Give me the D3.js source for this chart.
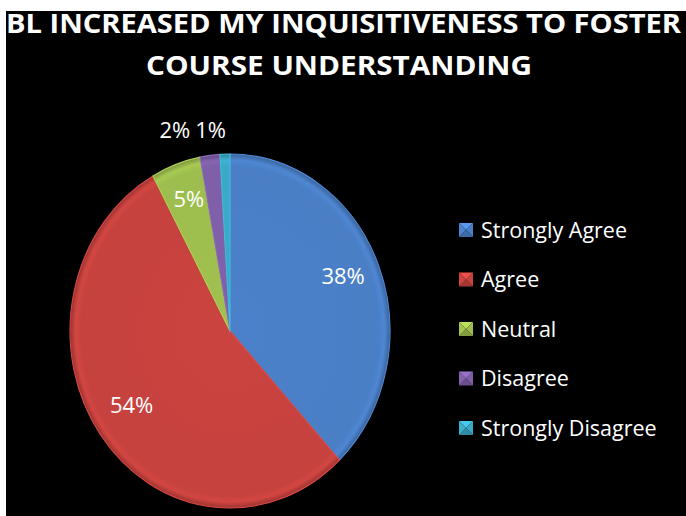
<!DOCTYPE html>
<html><head><meta charset="utf-8">
<script src="https://cdn.jsdelivr.net/npm/d3@7"></script>
<style>html,body{margin:0;padding:0;background:#fff;}svg{display:block;}</style>
</head><body>
<script>
const categories = ["Strongly Agree","Agree","Neutral","Disagree","Strongly Disagree"];
const values = [38,54,5,2,1];
const labels = ["38%","54%","5%","2%","1%"];
const colors = ["#4a7fc6","#c6423e","#9dbd4e","#7f5fa8","#3aa9c6"];
const titleLines = ["BL INCREASED MY INQUISITIVENESS TO FOSTER","COURSE UNDERSTANDING"];

const W=686,H=516;
const svg=d3.select("body").append("svg").attr("width",W).attr("height",H);
svg.append("rect").attr("x",6).attr("y",11).attr("width",W-6).attr("height",H-11).attr("fill","#000");

// title
const tl=[{x0:6,x1:681,y:33},{x0:146,x1:532,y:75}];
titleLines.forEach((t,i)=>{
  svg.append("text").attr("x",tl[i].x0).attr("y",tl[i].y)
    .attr("textLength",tl[i].x1-tl[i].x0).attr("lengthAdjust","spacingAndGlyphs")
    .attr("font-family","'Open Sans', Lato, sans-serif").attr("font-weight","bold")
    .attr("font-size",27).attr("fill","#fff").text(t);
});

const cx=230,cy=331,r=160,sy=177/160;
const defs=svg.append("defs");
colors.forEach((c,i)=>{
  const base=d3.color(c);
  const g=defs.append("radialGradient").attr("id","g"+i).attr("gradientUnits","userSpaceOnUse")
    .attr("cx",0).attr("cy",0).attr("r",r);
  g.append("stop").attr("offset","0").attr("stop-color",base.brighter(0.05));
  g.append("stop").attr("offset","0.93").attr("stop-color",base);
  g.append("stop").attr("offset","0.965").attr("stop-color",base.brighter(0.18));
  g.append("stop").attr("offset","1").attr("stop-color",base.darker(0.7));
});

const pie=d3.pie().sort(null).value(d=>d)(values);
const arc=d3.arc().innerRadius(0).outerRadius(r);
const G=svg.append("g").attr("transform",`translate(${cx},${cy}) scale(1,${sy})`);
G.selectAll("path").data(pie).join("path").attr("d",arc)
  .attr("fill",(d,i)=>`url(#g${i})`)
  .attr("stroke",(d,i)=>d3.color(colors[i]).brighter(0.3)).attr("stroke-width",1)
  .attr("stroke-linejoin","round");

// labels
const inner=d3.arc().innerRadius(r*0.76).outerRadius(r*0.76);
const lblFont="'Open Sans', Lato, sans-serif";
let outX=cx-4;
const outside=[];
pie.forEach((d,i)=>{
  if(values[i]>=5){
    const [x,y]=inner.centroid(d);
    svg.append("text").attr("x",cx+x).attr("y",cy+y*sy-5).attr("dy","0.35em")
      .attr("text-anchor","middle").attr("font-family",lblFont).attr("font-size",22)
      .attr("fill","#fff").text(labels[i]);
  } else outside.push(i);
});
outside.reverse().forEach(i=>{
  const t=svg.append("text").attr("x",outX).attr("y",cy-r*sy-16)
    .attr("text-anchor","end").attr("font-family",lblFont).attr("font-size",22)
    .attr("fill","#fff").text(labels[i]);
  outX-=t.node().getComputedTextLength()+5;
});

// legend
const lg=svg.append("g");
categories.forEach((c,i)=>{
  const y=230+i*49.5;
  const x=459,s=14;
  const base=d3.color(colors[i]);
  const pts=[[x,y-s/2],[x+s,y-s/2],[x+s,y+s/2],[x,y+s/2]];
  const m=[x+s/2,y];
  const shades=[base.brighter(0.5),base,base.darker(0.5),base.brighter(0.1)];
  for(let k=0;k<4;k++){
    const a=pts[k],b=pts[(k+1)%4];
    lg.append("path").attr("d",`M${a}L${b}L${m}Z`).attr("fill",shades[k]);
  }
  lg.append("text").attr("x",481).attr("y",y).attr("dy","0.35em")
    .attr("font-family",lblFont).attr("font-size",21.5).attr("fill","#fff").text(c);
});
</script>
</body></html>
